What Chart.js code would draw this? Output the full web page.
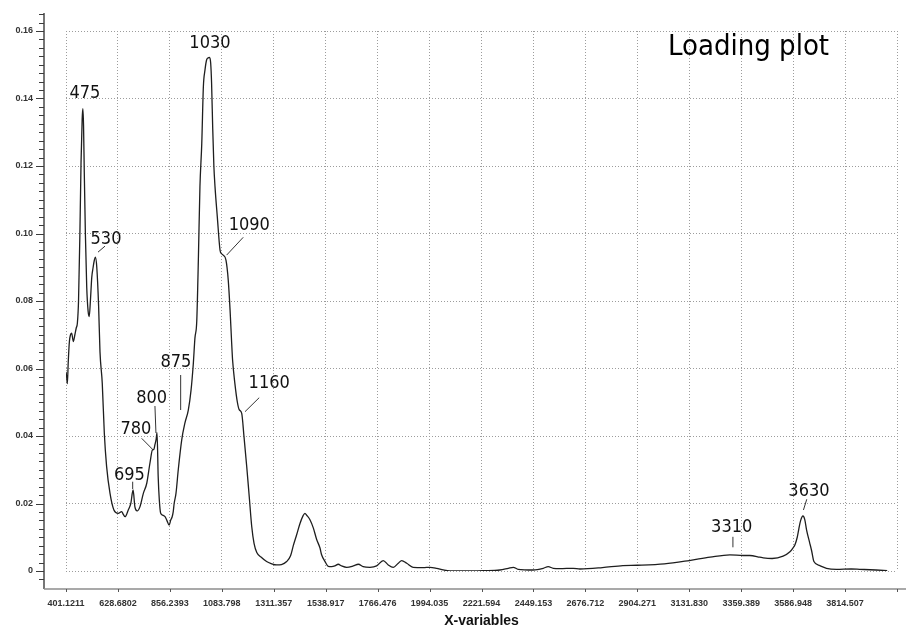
<!DOCTYPE html>
<html>
<head>
<meta charset="utf-8">
<title>Loading plot</title>
<script src="https://cdn.jsdelivr.net/npm/chart.js@4.4.1/dist/chart.umd.min.js"></script>
<style>
  html, body { margin: 0; padding: 0; background: #ffffff; }
  #wrap { width: 906px; height: 627px; }
</style>
</head>
<body>
<div id="wrap"><canvas id="chart" width="906" height="627"></canvas></div>
<script>
// Wavenumber (cm-1) of each spectral variable and its loading value
const wavenumbers = [
  401, 404, 407, 411, 416, 421, 426, 433, 440, 446, 451, 456, 462, 467, 472, 475, 478, 481, 486, 492,
  498, 503, 508, 514, 520, 525, 530, 536, 544, 550, 560, 569, 579, 594, 611, 630, 645, 652, 660, 674,
  685, 695, 703, 713, 725, 740, 755, 769, 780, 786, 791, 796, 800, 805, 810, 816, 826, 835, 843, 853,
  860, 866, 871, 875, 883, 893, 908, 922, 937, 949, 959, 966, 974, 981, 988, 996, 1003, 1010, 1017, 1023,
  1030, 1035, 1039, 1044, 1049, 1054, 1064, 1076, 1083, 1090, 1102, 1112, 1120, 1127, 1131, 1141, 1152, 1160, 1171, 1181,
  1193, 1204, 1215, 1225, 1237, 1258, 1280, 1300, 1324, 1345, 1368, 1385, 1397, 1412, 1426, 1440, 1448, 1456, 1470, 1485,
  1499, 1514, 1521, 1536, 1550, 1565, 1579, 1594, 1609, 1631, 1660, 1682, 1703, 1733, 1762, 1791, 1813, 1835, 1857, 1872,
  1894, 1922, 1966, 1996, 2025, 2054, 2083, 2156, 2229, 2302, 2339, 2361, 2382, 2448, 2492, 2514, 2536, 2565, 2624, 2653,
  2751, 2841, 2905, 3023, 3132, 3223, 3310, 3368, 3397, 3441, 3456, 3495, 3543, 3573, 3586, 3595, 3605, 3612, 3620, 3630,
  3638, 3646, 3659, 3668, 3678, 3704, 3733, 3777, 3841, 3879, 3950, 3999
];
const loadings = [
  0.0590, 0.0575, 0.0555, 0.0620, 0.0680, 0.0700, 0.0705, 0.0680, 0.0700, 0.0720, 0.0735, 0.0800, 0.1000, 0.1210, 0.1340, 0.1370, 0.1320, 0.1190, 0.1000, 0.0840,
  0.0770, 0.0754, 0.0800, 0.0870, 0.0900, 0.0920, 0.0930, 0.0900, 0.0785, 0.0650, 0.0556, 0.0408, 0.0310, 0.0230, 0.0181, 0.0171, 0.0176, 0.0168, 0.0161, 0.0181,
  0.0200, 0.0240, 0.0190, 0.0178, 0.0190, 0.0230, 0.0260, 0.0320, 0.0359, 0.0360, 0.0375, 0.0390, 0.0410, 0.0280, 0.0210, 0.0171, 0.0165, 0.0161, 0.0150, 0.0136,
  0.0151, 0.0160, 0.0176, 0.0200, 0.0230, 0.0300, 0.0388, 0.0438, 0.0477, 0.0536, 0.0615, 0.0690, 0.0740, 0.0921, 0.1139, 0.1267, 0.1435, 0.1484, 0.1514, 0.1520,
  0.1522, 0.1505, 0.1445, 0.1310, 0.1200, 0.1139, 0.1050, 0.0951, 0.0940, 0.0936, 0.0921, 0.0862, 0.0773, 0.0675, 0.0625, 0.0556, 0.0500, 0.0478, 0.0467, 0.0398,
  0.0309, 0.0220, 0.0131, 0.0082, 0.0055, 0.0040, 0.0028, 0.0022, 0.0018, 0.0019, 0.0028, 0.0045, 0.0075, 0.0108, 0.0140, 0.0164, 0.0171, 0.0165, 0.0152, 0.0127,
  0.0094, 0.0068, 0.0048, 0.0028, 0.0014, 0.0013, 0.0015, 0.0020, 0.0015, 0.0011, 0.0015, 0.0020, 0.0013, 0.0011, 0.0015, 0.0031, 0.0018, 0.0011, 0.0023, 0.0031,
  0.0023, 0.0011, 0.0010, 0.0011, 0.0008, 0.0003, 0.0000, 0.0000, 0.0001, 0.0003, 0.0008, 0.0011, 0.0005, 0.0003, 0.0008, 0.0013, 0.0008, 0.0007, 0.0008, 0.0006,
  0.0010, 0.0016, 0.0017, 0.0021, 0.0031, 0.0041, 0.0048, 0.0046, 0.0046, 0.0041, 0.0039, 0.0037, 0.0044, 0.0057, 0.0068, 0.0078, 0.0100, 0.0125, 0.0150, 0.0163,
  0.0152, 0.0121, 0.0085, 0.0060, 0.0028, 0.0016, 0.0008, 0.0005, 0.0006, 0.0005, 0.0003, 0.0001
];

// Axis tick labels
const xTickLabels = [
  '401.1211', '628.6802', '856.2393', '1083.798', '1311.357', '1538.917', '1766.476', '1994.035',
  '2221.594', '2449.153', '2676.712', '2904.271', '3131.830', '3359.389', '3586.948', '3814.507'
];
const yTickValues = [0, 0.02, 0.04, 0.06, 0.08, 0.10, 0.12, 0.14, 0.16];

// Assigned band positions marked on the curve
const peakLabels = ['475', '530', '695', '780', '800', '875', '1030', '1090', '1160', '3310', '3630'];

const plotTitle = 'Loading plot';
const xAxisTitle = 'X-variables';

// Callout placement, in pixels relative to the band's point on the curve:
// text = centre of the label, leader = [x1, y1, x2, y2] of the short connector line
const calloutLayout = {
  '475':  { text: [2, -17] },
  '530':  { text: [10.6, -20],   leader: [2.6, -5, 9.6, -11] },
  '695':  { text: [-3.6, -16.3], leader: [-0.4, -1, -0.4, -8.3] },
  '780':  { text: [-16.5, -22.5], leader: [0.8, 0.2, -10.8, -11.5] },
  '800':  { text: [-5.4, -35.9], leader: [-2.1, -26.6, -1.1, 0.4] },
  '875':  { text: [1.8, -142.8], leader: [6.5, -93.5, 6.5, -128.5] },
  '1030': { text: [0.4, -15.6] },
  '1090': { text: [26, -32],     leader: [3.4, 0, 20, -17.8] },
  '1160': { text: [30, -27.7],   leader: [5.8, 2, 20, -12] },
  '3310': { text: [1.8, -29.8],  leader: [3, -7.5, 3, -18] },
  '3630': { text: [6, -26.5],    leader: [0.5, -6, 3.8, -16.7] }
};

const xTickValues = xTickLabels.map(Number);
const xStep = xTickValues[1] - xTickValues[0];
const xMax = xTickValues[xTickValues.length - 1] + xStep;
const xGridValues = xTickValues.concat([xMax]);

const labelFont = '"DejaVu Sans Condensed", "DejaVu Sans", sans-serif';
const tickFont = { family: '"Liberation Sans", Arial, sans-serif', size: 9, weight: 'bold' };

// Loading at a given wavenumber (linear between stored variables)
function loadingAt(w) {
  for (let i = 0; i < wavenumbers.length - 1; i++) {
    if (w >= wavenumbers[i] && w <= wavenumbers[i + 1]) {
      const t = (w - wavenumbers[i]) / (wavenumbers[i + 1] - wavenumbers[i]);
      return loadings[i] + t * (loadings[i + 1] - loadings[i]);
    }
  }
  return loadings[loadings.length - 1];
}

// Axis lines drawn slightly away from the dotted plot frame, with tick marks
const offsetAxes = {
  id: 'offsetAxes',
  afterDraw(chart) {
    const { ctx, chartArea, scales } = chart;
    const ax = chartArea.left - 22;
    const ay = chartArea.bottom + 18;
    ctx.save();
    // vertical axis
    ctx.strokeStyle = '#3c3c3c';
    ctx.lineWidth = 1.4;
    ctx.beginPath();
    ctx.moveTo(ax, 13);
    ctx.lineTo(ax, ay);
    ctx.stroke();
    ctx.lineWidth = 1;
    for (let k = -1; k <= 66; k++) {
      const py = Math.round(scales.y.getPixelForValue(k * 0.0025)) + 0.5;
      if (py < 13 || py > ay) continue;
      const len = (k % 8 === 0) ? 8 : 5;
      ctx.beginPath();
      ctx.moveTo(ax - len, py);
      ctx.lineTo(ax, py);
      ctx.stroke();
    }
    // horizontal axis
    ctx.strokeStyle = '#8c8c8c';
    ctx.lineWidth = 1.6;
    ctx.beginPath();
    ctx.moveTo(ax, ay);
    ctx.lineTo(chart.width, ay);
    ctx.stroke();
    ctx.strokeStyle = '#555';
    ctx.lineWidth = 1;
    xGridValues.forEach(v => {
      const px = Math.round(scales.x.getPixelForValue(v)) + 0.5;
      ctx.beginPath();
      ctx.moveTo(px, ay);
      ctx.lineTo(px, ay + 3);
      ctx.stroke();
    });
    ctx.restore();
  }
};

// Band callouts and the plot caption
const callouts = {
  id: 'callouts',
  afterDatasetsDraw(chart) {
    const { ctx, chartArea, scales } = chart;
    ctx.save();
    ctx.font = '18px ' + labelFont;
    ctx.fillStyle = '#111';
    ctx.strokeStyle = '#333';
    ctx.lineWidth = 1;
    ctx.textAlign = 'center';
    ctx.textBaseline = 'alphabetic';
    peakLabels.forEach(label => {
      const w = Number(label);
      const px = scales.x.getPixelForValue(w);
      const py = scales.y.getPixelForValue(loadingAt(w));
      const lay = calloutLayout[label];
      if (lay.leader) {
        const [x1, y1, x2, y2] = lay.leader;
        ctx.beginPath();
        ctx.moveTo(px + x1, py + y1);
        ctx.lineTo(px + x2, py + y2);
        ctx.stroke();
      }
      ctx.fillText(label, px + lay.text[0], py + lay.text[1] + 6.5);
    });
    ctx.font = '29px ' + labelFont;
    ctx.fillStyle = '#000';
    ctx.fillText(plotTitle, chartArea.right - 148.5, chartArea.top + 24);
    ctx.restore();
  }
};

new Chart(document.getElementById('chart'), {
  type: 'line',
  data: {
    datasets: [{
      data: wavenumbers.map((w, i) => ({ x: w, y: loadings[i] })),
      borderColor: '#1e1e1e',
      borderWidth: 1.3,
      pointRadius: 0,
      fill: false,
      cubicInterpolationMode: 'monotone'
    }]
  },
  options: {
    responsive: false,
    animation: false,
    devicePixelRatio: 1,
    layout: { padding: { top: 31, right: 9, left: 0, bottom: 0 } },
    plugins: {
      legend: { display: false },
      tooltip: { enabled: false },
      title: { display: false }
    },
    scales: {
      x: {
        type: 'linear',
        min: xTickValues[0],
        max: xMax,
        afterBuildTicks: s => { s.ticks = xGridValues.map(v => ({ value: v })); },
        afterFit: s => { s.height = 56; },
        ticks: {
          autoSkip: false,
          maxRotation: 0,
          minRotation: 0,
          padding: 3,
          color: '#333',
          font: tickFont,
          callback: (v, i) => (i < xTickLabels.length ? xTickLabels[i] : '')
        },
        grid: { color: '#9c9c9c', lineWidth: 1, tickLength: 24, tickColor: 'rgba(0,0,0,0)' },
        border: { display: false, dash: [1, 2] },
        title: {
          display: true,
          text: xAxisTitle,
          color: '#111',
          font: { family: '"Liberation Sans", Arial, sans-serif', size: 14, weight: 'bold', lineHeight: 0.9 },
          padding: { top: 0, bottom: 0 }
        }
      },
      y: {
        type: 'linear',
        min: 0,
        max: 0.16,
        afterBuildTicks: s => { s.ticks = yTickValues.map(v => ({ value: v })); },
        afterFit: s => { s.width = 66; },
        ticks: {
          padding: 3,
          color: '#333',
          font: tickFont,
          callback: v => (v === 0 ? '0' : v.toFixed(2))
        },
        grid: { color: '#9c9c9c', lineWidth: 1, tickLength: 30, tickColor: 'rgba(0,0,0,0)' },
        border: { display: false, dash: [1, 2] }
      }
    }
  },
  plugins: [offsetAxes, callouts]
});
</script>
</body>
</html>
